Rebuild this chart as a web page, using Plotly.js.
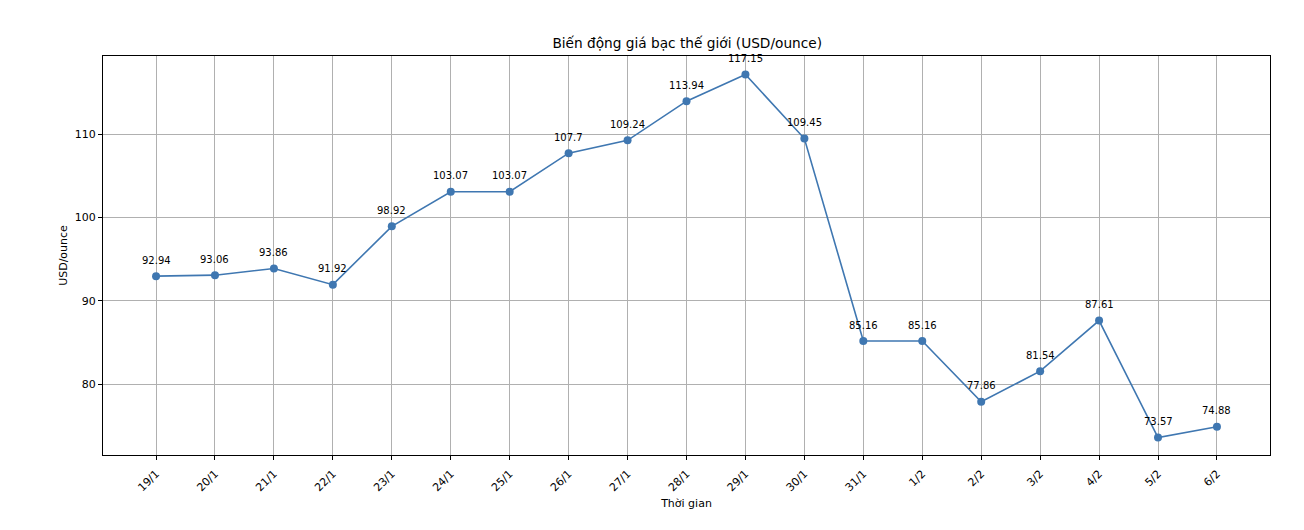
<!DOCTYPE html>
<html>
<head>
<meta charset="utf-8">
<script src="https://cdn.plot.ly/plotly-3.0.1.min.js"></script>
<style>body{margin:0;background:#fff;}#chart{width:1304px;height:530px;}</style>
</head>
<body>
<div id="chart"></div>
<script>
const dates = ["19/1","20/1","21/1","22/1","23/1","24/1","25/1","26/1","27/1","28/1","29/1","30/1","31/1","1/2","2/2","3/2","4/2","5/2","6/2"];
const prices = [92.94,93.06,93.86,91.92,98.92,103.07,103.07,107.7,109.24,113.94,117.15,109.45,85.16,85.16,77.86,81.54,87.61,73.57,74.88];
const labels = ["92.94","93.06","93.86","91.92","98.92","103.07","103.07","107.7","109.24","113.94","117.15","109.45","85.16","85.16","77.86","81.54","87.61","73.57","74.88"];

const idx = dates.map((d,i)=>i);
const trace = {
  x: idx, y: prices, type: 'scatter', mode: 'lines+markers',
  line: {color: '#3f77b1', width: 1.6},
  marker: {color: '#3f77b1', size: 8},
  cliponaxis: false, hoverinfo: 'none'
};
const annotations = idx.map(i => ({
  x: i, y: prices[i], text: labels[i], showarrow: false,
  xanchor: 'center', yanchor: 'middle', yshift: 16,
  font: {family: 'DejaVu Sans', size: 10, color: '#000'}
}));
const layout = {
  width: 1304, height: 530,
  margin: {l: 103, r: 34, t: 56, b: 75},
  paper_bgcolor: '#fff', plot_bgcolor: '#fff',
  font: {family: 'DejaVu Sans', size: 10, color: '#000'},
  showlegend: false,
  annotations: annotations,
  title: {text: 'Biến động giá bạc thế giới (USD/ounce)', font: {size: 13.7, family: 'DejaVu Sans'}, x: 0.527, xanchor: 'center', y: 0.918, yanchor: 'middle'},
  xaxis: {
    range: [-0.9, 18.9], tickmode: 'array', tickvals: idx, ticktext: dates, tickangle: -45,
    tickfont: {size: 11}, ticklabelstandoff: 3,
    showgrid: true, gridcolor: '#b0b0b0', gridwidth: 0.8,
    showline: true, linecolor: '#000', linewidth: 1, mirror: true,
    ticks: 'outside', ticklen: 4, tickcolor: '#000', zeroline: false,
    title: {text: 'Thời gian', font: {size: 11}, standoff: 6}
  },
  yaxis: {
    range: [71.48, 119.36], tickvals: [80, 90, 100, 110],
    showgrid: true, gridcolor: '#b0b0b0', gridwidth: 0.8,
    showline: true, linecolor: '#000', linewidth: 1, mirror: true,
    ticks: 'outside', ticklen: 4, tickcolor: '#000', zeroline: false,
    tickfont: {size: 11},
    title: {text: 'USD/ounce', font: {size: 11}, standoff: 4}
  }
};
Plotly.newPlot('chart', [trace], layout, {displayModeBar: false});
</script>
</body>
</html>
